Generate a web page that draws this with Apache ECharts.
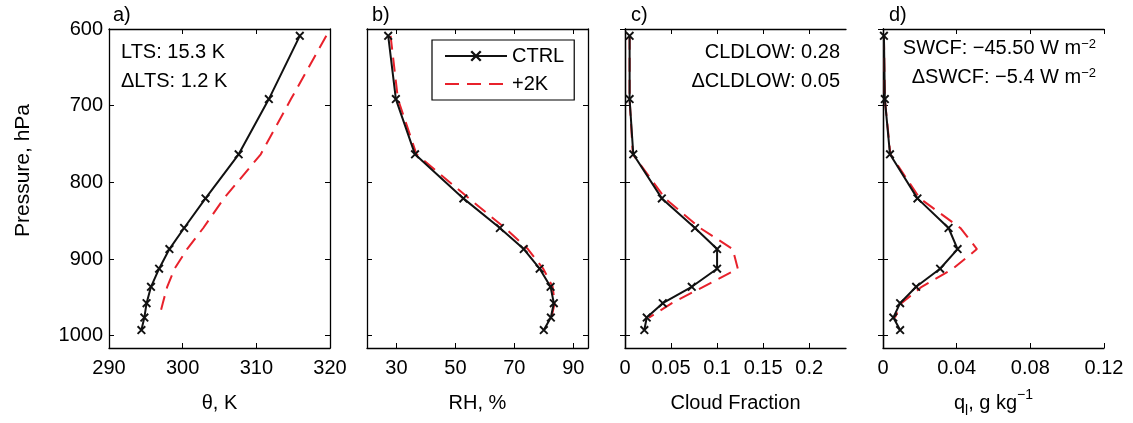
<!DOCTYPE html>
<html>
<head>
<meta charset="utf-8">
<script src="https://cdn.jsdelivr.net/npm/echarts@6/dist/echarts.min.js"></script>
<style>
  html, body { margin: 0; padding: 0; background: #fff; }
  #chart { width: 1133px; height: 423px; }
</style>
</head>
<body>
<div id="chart"></div>
<script>
// model levels, hPa
const pressure = [608.9, 691.4, 763.4, 820.9, 859.5, 887.0, 912.6, 936.2, 957.5, 976.3, 992.6]

// a) potential temperature, K
const thetaCtrl = [315.9, 311.7, 307.6, 303.1, 300.2, 298.2, 296.8, 295.7, 295.1, 294.8, 294.4]
const thetaWarm = [319.5, 314.7, 310.6, 305.6, 302.8, 300.6, 298.9, 297.9, 297.3, 296.8]
// b) relative humidity, %
const rhCtrl = [27.2, 29.8, 36.3, 52.7, 65.1, 73.2, 78.6, 82.3, 83.4, 82.4, 80.0]
const rhWarm = [28.0, 30.5, 36.8, 54.6, 66.8, 74.6, 79.8, 83.0, 83.7, 82.6]
// c) cloud fraction
const cfCtrl = [0.005, 0.005, 0.009, 0.040, 0.076, 0.100, 0.100, 0.0725, 0.041, 0.0236, 0.021]
const cfWarm = [0.005, 0.005, 0.0085, 0.0435, 0.0815, 0.117, 0.1225, 0.085, 0.051, 0.026]
// d) liquid water, g/kg
const qlCtrl = [0.0005, 0.001, 0.0038, 0.0187, 0.0356, 0.0405, 0.031, 0.018, 0.0093, 0.0056, 0.0093]
const qlWarm = [0.0005, 0.001, 0.004, 0.020, 0.042, 0.051, 0.038, 0.021, 0.010, 0.0065]

// tick labels
const pressureTicks = [600, 700, 800, 900, 1000]
const thetaTicks = [290, 300, 310, 320]
const rhTicks = [30, 50, 70, 90]
const cfTicks = [0, 0.05, 0.1, 0.15, 0.2]
const qlTicks = [0, 0.04, 0.08, 0.12]

const FONT = 'Liberation Sans, Arial, Helvetica, sans-serif'
const RED = '#e8212b'
const CROSS = 'path://M0,1.5L1.5,0L10,8.5L8.5,10Z M8.5,0L10,1.5L1.5,10L0,8.5Z'

const panels = [
  { left: 109, min: 290, max: 320, ticks: thetaTicks, name: 'θ, K', ctrl: thetaCtrl, warm: thetaWarm },
  { left: 367, min: 20, max: 95, ticks: rhTicks, name: 'RH, %', ctrl: rhCtrl, warm: rhWarm },
  { left: 625, min: 0, max: 0.24, ticks: cfTicks, name: 'Cloud Fraction', ctrl: cfCtrl, warm: cfWarm },
  { left: 883, min: 0, max: 0.12, ticks: qlTicks, name: 'q{sub|l}, g kg{sup|−1}', ctrl: qlCtrl, warm: qlWarm }
]

const axisLine = { show: true, lineStyle: { color: '#000', width: 1.3 } }
const grid = []
const xAxis = []
const yAxis = []
const series = []

panels.forEach((p, i) => {
  grid.push({ left: p.left, top: 29, width: 221, height: 323 })
  // bottom x
  xAxis.push({
    type: 'value', gridIndex: i, position: 'bottom', min: p.min, max: p.max,
    axisLine: axisLine,
    axisTick: { inside: true, length: 5, customValues: p.ticks, lineStyle: { color: '#000' } },
    axisLabel: { customValues: p.ticks, color: '#000', fontSize: 20, fontFamily: FONT, margin: 10 },
    splitLine: { show: false },
    name: p.name, nameLocation: 'middle', nameGap: 40,
    nameTextStyle: {
      color: '#000', fontSize: 20, fontFamily: FONT, lineHeight: 30,
      rich: {
        sub: { fontSize: 14, fontFamily: FONT, color: '#000', lineHeight: 14, verticalAlign: 'bottom' },
        sup: { fontSize: 14, fontFamily: FONT, color: '#000', lineHeight: 14, verticalAlign: 'top' }
      }
    }
  })
  // top x (box)
  xAxis.push({
    type: 'value', gridIndex: i, position: 'top', min: p.min, max: p.max,
    axisLine: axisLine,
    axisTick: { inside: true, length: 5, customValues: p.ticks, lineStyle: { color: '#000' } },
    axisLabel: { show: false },
    splitLine: { show: false }
  })
  yAxis.push({
    type: 'value', gridIndex: i, position: 'left', inverse: true, min: 600, max: 1016,
    axisLine: axisLine,
    axisTick: { inside: true, length: 5, customValues: pressureTicks, lineStyle: { color: '#000' } },
    axisLabel: {
      show: i === 0, customValues: pressureTicks, color: '#000', fontSize: 20, fontFamily: FONT, margin: 6,
      formatter: v => String(v)
    },
    splitLine: { show: false },
    name: i === 0 ? 'Pressure, hPa' : '',
    nameLocation: 'middle', nameGap: 75,
    nameTextStyle: { color: '#000', fontSize: 21, fontFamily: FONT, padding: [0, 0, 0, 36] }
  })
  yAxis.push({
    type: 'value', gridIndex: i, position: 'right', inverse: true, min: 600, max: 1016,
    axisLine: axisLine,
    axisTick: { inside: true, length: 5, customValues: pressureTicks, lineStyle: { color: '#000' } },
    axisLabel: { show: false },
    splitLine: { show: false }
  })

  series.push({
    name: '+2K', type: 'line', xAxisIndex: 2 * i, yAxisIndex: 2 * i,
    data: p.warm.map((v, k) => [v, pressure[k]]),
    symbol: 'none', silent: true,
    lineStyle: { color: RED, width: 2, type: [14, 8] },
    itemStyle: { color: RED, opacity: 0 }
  })
  series.push({
    name: 'CTRL', type: 'line', xAxisIndex: 2 * i, yAxisIndex: 2 * i,
    data: p.ctrl.map((v, k) => [v, pressure[k]]),
    symbol: CROSS, symbolSize: 9, showAllSymbol: true, silent: true,
    lineStyle: { color: '#111', width: 2 },
    itemStyle: { color: '#111' }
  })
})

const txt = (extra, text, rich) => Object.assign({
  type: 'text',
  style: { text: text, fontSize: 20, fontFamily: FONT, fill: '#000', rich: rich }
}, extra)

const supRich = {
  sup: { fontSize: 13, fontFamily: FONT, fill: '#000', lineHeight: 13, verticalAlign: 'top' }
}

const chart = echarts.init(document.getElementById('chart'))
chart.setOption({
  animation: false,
  backgroundColor: '#fff',
  grid: grid,
  xAxis: xAxis,
  yAxis: yAxis,
  series: series,
  legend: {
    data: ['CTRL', '+2K'],
    left: 432, top: 40,
    orient: 'vertical',
    itemWidth: 62, itemHeight: 14, itemGap: 8,
    padding: [6, 10, 6, 12],
    borderColor: '#000', borderWidth: 1.2,
    textStyle: { color: '#000', fontSize: 20, fontFamily: FONT }
  },
  graphic: [
    txt({ left: 113, top: 5 }, 'a)'),
    txt({ left: 372, top: 5 }, 'b)'),
    txt({ left: 631, top: 5 }, 'c)'),
    txt({ left: 889, top: 5 }, 'd)'),
    txt({ left: 121, top: 42 }, 'LTS: 15.3 K'),
    txt({ left: 121, top: 71 }, 'ΔLTS: 1.2 K'),
    txt({ right: 293, top: 42 }, 'CLDLOW: 0.28'),
    txt({ right: 293, top: 71 }, 'ΔCLDLOW: 0.05'),
    txt({ right: 37, top: 38 }, 'SWCF: −45.50 W m{sup|−2}', supRich),
    txt({ right: 37, top: 67 }, 'ΔSWCF: −5.4 W m{sup|−2}', supRich)
  ]
})
</script>
</body>
</html>
